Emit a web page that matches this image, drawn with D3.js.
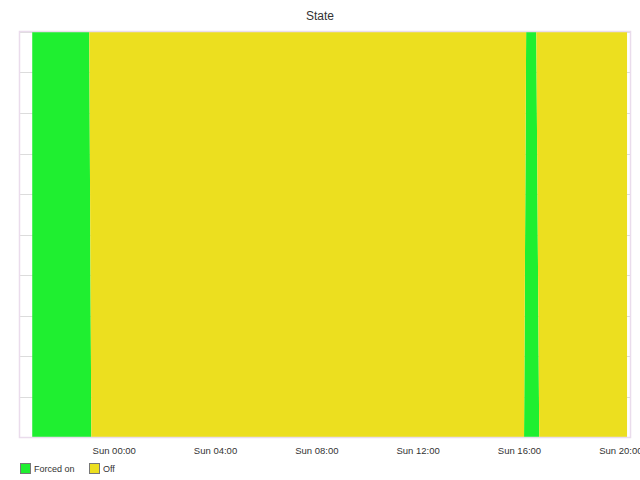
<!DOCTYPE html>
<html>
<head>
<meta charset="utf-8">
<script src="https://cdn.jsdelivr.net/npm/d3@7"></script>
<style>
  html, body { margin: 0; padding: 0; background: #fff; }
  svg { display: block; }
  text { font-family: "Liberation Sans", Arial, sans-serif; fill: #333; }
</style>
</head>
<body>
<svg id="chart" width="640" height="480"></svg>
<script>
// ---- data ----
const chartTitle = "State";
const seriesNames = ["Forced on", "Off"];
const seriesColors = ["#1fef30", "#ecdf1f"];
const times = [
  "2022-12-31T20:47", "2022-12-31T23:02", "2022-12-31T23:07",
  "2023-01-01T16:12", "2023-01-01T16:17", "2023-01-01T16:41",
  "2023-01-01T16:48", "2023-01-01T20:16"
];
const forcedOn = [1, 1, 0, 0, 1, 1, 0, 0];
const off      = [0, 0, 1, 1, 0, 0, 1, 1];
const xDomain = ["2022-12-31T20:18", "2023-01-01T20:23"];
const tickTimes = ["2023-01-01T00:00", "2023-01-01T04:00", "2023-01-01T08:00",
                   "2023-01-01T12:00", "2023-01-01T16:00", "2023-01-01T20:00"];
const yTicks = [0, 0.1, 0.2, 0.3, 0.4, 0.5, 0.6, 0.7, 0.8, 0.9, 1];

// ---- layout ----
const parse = d3.timeParse("%Y-%m-%dT%H:%M");
const fmt = d3.timeFormat("%a %H:%M");
const mLeft = 20, mRight = 630, mTop = 32, mBottom = 437;

const svg = d3.select("#chart");

const rows = times.map((t, i) => ({ t: parse(t), "Forced on": forcedOn[i], "Off": off[i] }));

const x = d3.scaleTime().domain(xDomain.map(parse)).range([mLeft, mRight]);
const y = d3.scaleLinear().domain([0, 1]).range([mBottom, mTop]);

// title
svg.append("text").attr("x", 320).attr("y", 20).attr("text-anchor", "middle")
  .attr("font-size", 12).text(chartTitle);

// gridlines
svg.append("g").selectAll("line").data(yTicks).join("line")
  .attr("x1", mLeft).attr("x2", mRight)
  .attr("y1", d => Math.round(y(d)) + 0.5).attr("y2", d => Math.round(y(d)) + 0.5)
  .attr("stroke", "#dcdcdc").attr("stroke-width", 1);

// stacked areas
const stack = d3.stack().keys(seriesNames).offset(d3.stackOffsetExpand);
const layers = stack(rows);
const area = d3.area()
  .x(d => x(d.data.t))
  .y0(d => y(d[0]))
  .y1(d => y(d[1]));

svg.append("g").selectAll("path").data(layers).join("path")
  .attr("fill", (d, i) => seriesColors[i])
  .attr("d", area);

// frame
svg.append("rect").attr("x", mLeft - 0.5).attr("y", mTop - 0.5)
  .attr("width", mRight - mLeft + 1).attr("height", mBottom - mTop + 1)
  .attr("fill", "none").attr("stroke", "#eadcec").attr("stroke-width", 1.5);

// x axis labels
const xAxis = d3.axisBottom(x).tickValues(tickTimes.map(parse)).tickFormat(fmt)
  .tickSize(0).tickPadding(10);
const gx = svg.append("g").attr("transform", `translate(0,${mBottom})`).call(xAxis);
gx.select(".domain").remove();
gx.selectAll("text").attr("font-size", 9.5)
  .attr("font-family", "'Liberation Sans', Arial, sans-serif").attr("fill", "#333");

// legend
const legend = svg.append("g");
const legendX = [20, 89];
seriesNames.forEach((name, i) => {
  const g = legend.append("g").attr("transform", `translate(${legendX[i]},463)`);
  g.append("rect").attr("x", 0.5).attr("y", 0.5).attr("width", 10).attr("height", 10)
    .attr("fill", seriesColors[i]).attr("stroke", "#777").attr("stroke-width", 1);
  g.append("text").attr("x", 14).attr("y", 9).attr("font-size", 9).text(name);
});
</script>
</body>
</html>
